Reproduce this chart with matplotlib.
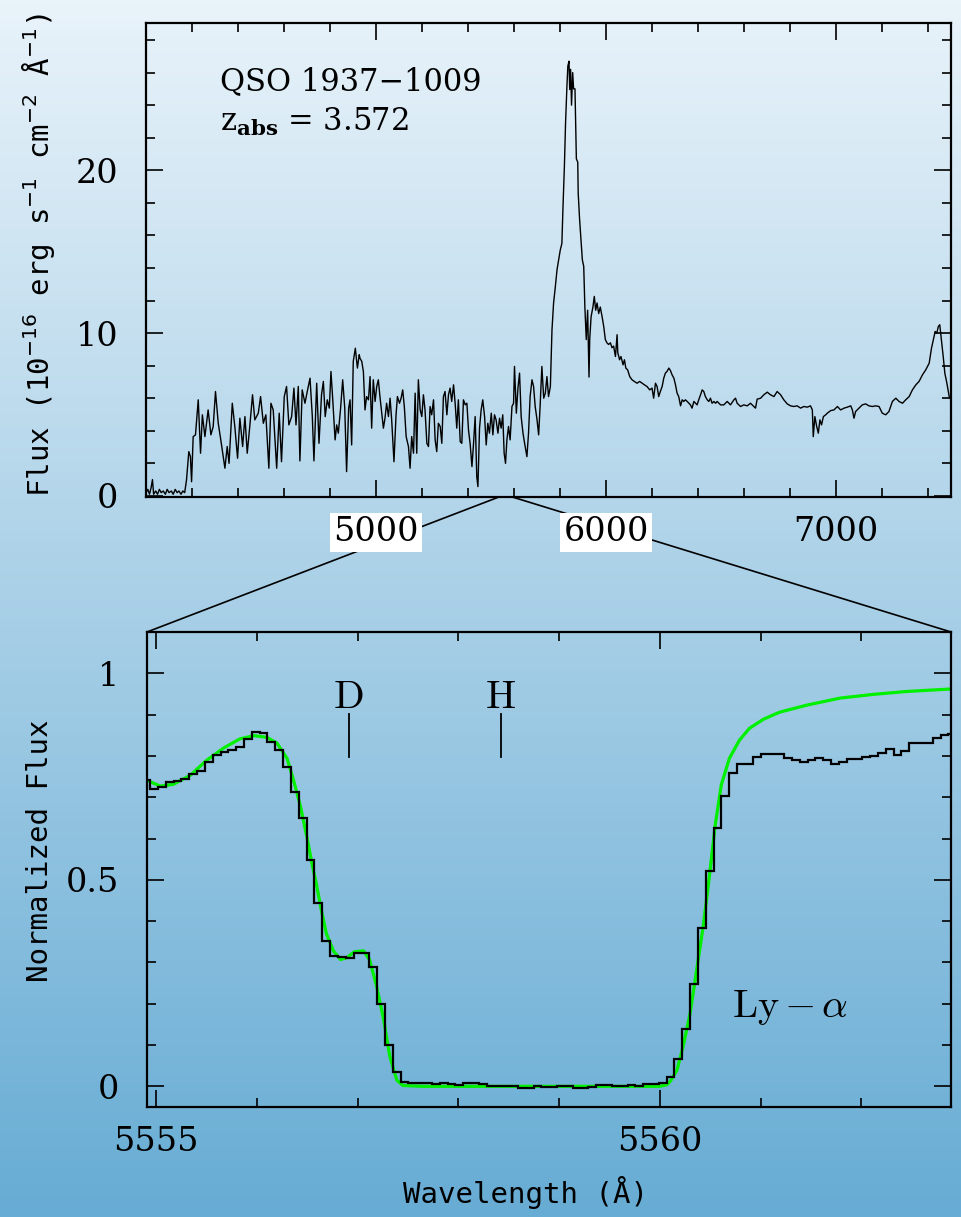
import numpy as np
import matplotlib
matplotlib.use("Agg")
import matplotlib.pyplot as plt
from matplotlib.patches import ConnectionPatch
from matplotlib.ticker import MultipleLocator

# ---- top panel: QSO spectrum (wavelength in A, flux in 1e-16 cgs) ----
wave_top = [4000, 4008, 4015, 4022, 4028, 4033, 4042, 4050, 4058, 4066, 4075, 4084, 4092, 4100,
            4110, 4118, 4127, 4135, 4143, 4152, 4160, 4168,
            4176, 4186, 4193, 4198, 4205, 4215, 4227, 4237, 4245, 4256, 4270, 4282, 4292, 4302,
            4314, 4325, 4343, 4353, 4361, 4375, 4386, 4398, 4408, 4420, 4430, 4440, 4451, 4463,
            4473, 4488, 4498, 4510, 4521, 4534, 4543, 4553, 4568, 4579, 4589, 4601, 4611, 4621,
            4633, 4643, 4652, 4662, 4669, 4679, 4691, 4701, 4713, 4723, 4730, 4742, 4752, 4763,
            4771, 4779, 4788, 4797, 4804, 4811, 4822, 4829, 4836, 4846, 4855, 4864, 4872, 4881,
            4887, 4894, 4901, 4910, 4919, 4927,
            4930, 4938, 4945, 4952, 4959, 4967, 4974, 4981, 4988, 4996, 5003, 5010, 5017, 5025,
            5032, 5039, 5046, 5054, 5061, 5068, 5078, 5087, 5093, 5102, 5109, 5116, 5123, 5131,
            5141, 5148, 5155, 5163, 5170, 5177, 5184, 5192, 5199, 5206, 5213, 5221, 5228, 5235,
            5242, 5250, 5257, 5264, 5271, 5279, 5286, 5293, 5300, 5308, 5315, 5322, 5329, 5337,
            5344, 5351, 5358, 5366, 5373, 5380, 5388, 5395, 5402, 5409, 5417, 5424, 5431, 5438,
            5443, 5450, 5457, 5464, 5472, 5479, 5486, 5493, 5501, 5508, 5515, 5522, 5530, 5537,
            5544, 5551, 5557, 5563, 5569, 5576, 5583, 5591, 5598, 5602, 5610, 5617, 5624, 5631,
            5639, 5646, 5656, 5663, 5670, 5678, 5685, 5692, 5700, 5707, 5714, 5721, 5729, 5736,
            5743, 5750, 5758,
            5765, 5772, 5779, 5787, 5794, 5801, 5808, 5813, 5819, 5824, 5830, 5834, 5839, 5842,
            5846, 5850, 5855, 5859, 5865, 5871, 5877, 5879, 5885, 5891, 5897, 5903, 5908, 5914,
            5920, 5926, 5929, 5935, 5943, 5949, 5955, 5961, 5968, 5975, 5983, 5990, 5997, 6004,
            6011, 6019, 6026, 6033, 6041, 6048, 6051, 6059, 6065, 6074, 6080, 6086, 6094, 6103,
            6113, 6123, 6135, 6146, 6157, 6167, 6178, 6190,
            6200, 6207, 6215, 6222, 6229, 6236, 6244, 6251, 6258, 6265, 6273, 6280, 6287, 6295,
            6302, 6309, 6316, 6324, 6331, 6338, 6345, 6353, 6360, 6367, 6374, 6382, 6389, 6396,
            6403, 6411, 6418, 6425, 6432, 6440, 6447, 6454, 6461, 6469, 6476, 6483, 6498, 6512,
            6527, 6541, 6556, 6563, 6570, 6585, 6599, 6614, 6628, 6643, 6650, 6657, 6672, 6686,
            6701, 6715, 6730, 6744, 6759, 6773, 6788, 6802, 6817, 6831, 6846,
            6860, 6875, 6889, 6897, 6901, 6908, 6916, 6923, 6930, 6937, 6945, 6955, 6962, 6977,
            6991, 7006, 7020, 7035, 7049, 7064, 7071, 7078, 7085, 7100, 7114, 7129, 7143, 7158,
            7172, 7187, 7201, 7216, 7230, 7245, 7260, 7274, 7289, 7303, 7318, 7332, 7347, 7361,
            7376, 7390, 7405, 7415, 7423, 7431, 7438, 7445, 7451, 7458, 7466, 7473, 7482, 7492,
            7500]
flux_top = [0.2, 0.4, 0.1, 0.5, 1.0, 0.1, 0.3, 0.1, 0.4, 0.2, 0.3, 0.1, 0.4, 0.2,
            0.3, 0.1, 0.4, 0.2, 0.3, 0.1, 0.3, 0.2,
            0.98, 2.72, 2.41, 0.87, 3.64, 3.75, 5.90, 2.62, 4.98, 3.64, 5.28, 3.75, 4.26, 6.41,
            4.46, 3.44, 1.70, 3.03, 2.00, 5.69, 4.26, 2.31, 4.77, 3.03, 4.87, 2.62, 4.26, 6.21,
            4.67, 5.08, 6.10, 4.46, 4.98, 1.70, 5.69, 5.28, 1.70, 5.08, 2.10, 6.10, 6.72, 4.36,
            4.87, 6.62, 4.36, 6.72, 2.15, 6.51, 5.69, 6.41, 7.23, 4.87, 2.15, 6.92, 3.23, 6.21,
            7.03, 4.87, 5.90, 5.39, 7.64, 6.10, 3.44, 4.36, 3.85, 5.39, 7.13, 5.39, 1.49, 5.39,
            5.90, 3.13, 8.26, 9.07, 7.85, 8.67,
            8.46, 8.26, 7.64, 5.28, 6.10, 5.90, 7.33, 4.16, 7.13, 5.80, 6.72, 7.13, 6.10, 5.08,
            4.16, 4.77, 5.69, 4.87, 6.00, 4.67, 2.10, 4.98, 6.10, 5.69, 6.00, 6.51, 5.49, 3.64,
            3.03, 1.70, 3.64, 2.62, 6.31, 2.62, 7.13, 5.28, 4.87, 6.21, 5.28, 3.23, 3.03, 5.49,
            4.98, 5.90, 3.44, 2.72, 4.46, 4.26, 3.23, 6.10, 6.41, 4.98, 6.21, 6.62, 5.80, 6.82,
            5.69, 4.16, 5.90, 3.33, 3.23, 5.90, 5.59, 5.69, 4.05, 3.23, 1.80, 3.23, 4.87, 1.18,
            0.57, 4.16, 5.28, 5.90, 4.87, 3.13, 4.46, 3.85, 5.08, 3.75, 4.98, 4.67, 3.85, 4.77,
            4.16, 4.98, 2.62, 2.00, 3.44, 4.26, 3.44, 5.49, 5.69, 7.95, 5.08, 6.62, 7.54, 4.87,
            3.85, 3.23, 2.41, 3.85, 6.10, 7.13, 6.72, 5.49, 4.67, 3.75, 5.69, 7.95, 6.00, 6.31,
            7.33, 6.10, 6.72,
            10.2, 11.85, 12.77, 13.9, 14.5, 15.1, 15.5, 17.8, 20.25, 22.9, 25.17, 26.4, 26.7, 24.96,
            26.2, 24.0, 26.0, 25.0, 25.0, 20.7, 20.5, 18.6, 17.0, 15.7, 14.5, 14.1, 11.6, 9.6,
            11.4, 7.3, 9.6, 11.0, 11.6, 12.25, 11.4, 11.85, 11.2, 11.6, 11.0, 10.4, 9.6, 9.4,
            9.3, 9.4, 9.1, 9.2, 8.56, 9.9, 8.8, 8.36, 8.56, 8.05, 8.36, 7.85, 7.74, 7.33,
            7.13, 7.03, 6.92, 7.03, 6.92, 6.82, 6.72, 6.51,
            6.62, 6.00, 6.92, 6.72, 6.10, 6.41, 6.72, 7.23, 7.54, 7.64, 7.85, 7.70, 7.44, 7.23,
            6.82, 6.31, 6.10, 5.53, 5.90, 5.80, 5.90, 5.80, 5.69, 5.59, 5.39, 5.80, 5.69, 5.59,
            5.90, 6.21, 6.51, 6.41, 6.10, 5.90, 5.80, 6.00, 5.69, 5.80, 5.69, 5.80, 5.59, 5.59,
            5.80, 5.59, 5.90, 6.00, 5.69, 5.49, 5.59, 5.53, 5.69, 5.49, 5.39, 5.94, 6.00, 6.21,
            6.37, 6.21, 6.10, 6.41, 6.21, 5.90, 5.65, 5.53, 5.49, 5.53, 5.39,
            5.49, 5.45, 5.53, 5.28, 3.64, 4.87, 4.26, 3.85, 4.67, 4.36, 4.87, 4.98, 5.08, 5.24,
            5.28, 5.49, 5.28, 5.39, 5.45, 5.53, 5.28, 4.77, 5.18, 5.39, 5.59, 5.65, 5.53, 5.49,
            5.53, 5.49, 5.08, 4.98, 5.18, 5.80, 6.00, 5.80, 5.69, 5.90, 6.10, 6.51, 6.82, 7.03,
            7.44, 7.74, 8.15, 9.07, 9.59, 10.1, 10.0, 10.41, 10.51, 9.59, 8.56, 7.54, 6.92, 6.10,
            5.9]

top_xticks = [5000, 6000, 7000]
top_yticks = [0, 10, 20]
boxed_labels = ["5000", "6000"]

# ---- bottom panel: normalized flux around the Ly-alpha absorber ----
bin_edge0 = 5554.863   # first pixel edge (A)
bin_width = 0.07768    # pixel width (A)
flux_bin = [0.742, 0.719, 0.724, 0.738, 0.740, 0.744, 0.755, 0.764, 0.786, 0.802,
            0.810, 0.814, 0.822, 0.840, 0.859, 0.856, 0.834, 0.814, 0.774, 0.713,
            0.650, 0.548, 0.443, 0.353, 0.316, 0.314, 0.310, 0.324, 0.324, 0.288,
            0.199, 0.100, 0.035, 0.011, 0.009, 0.009, 0.007, 0.006, 0.009, 0.006,
            0.003, 0.007, 0.008, 0.005, 0.002, 0.002, 0.002, 0.000, -0.003, -0.003,
            0.000, -0.002, -0.002, 0.000, 0.000, -0.003, -0.004, -0.002, 0.003, 0.003,
            0.002, 0.002, 0.003, 0.000, 0.005, 0.006, 0.009, 0.023, 0.066, 0.138,
            0.247, 0.383, 0.521, 0.625, 0.703, 0.759, 0.780, 0.780, 0.797, 0.804,
            0.804, 0.804, 0.796, 0.790, 0.786, 0.790, 0.794, 0.790, 0.780, 0.785,
            0.793, 0.793, 0.797, 0.800, 0.806, 0.817, 0.802, 0.813, 0.831, 0.831,
            0.832, 0.844, 0.851, 0.854]

wave_fit = [5554.90, 5555.04, 5555.17, 5555.34, 5555.50, 5555.67, 5555.83, 5555.97, 5556.10,
            5556.20, 5556.30, 5556.36, 5556.43, 5556.50, 5556.55, 5556.59, 5556.64, 5556.69,
            5556.76, 5556.83, 5556.89, 5556.97, 5557.06, 5557.12, 5557.19, 5557.26, 5557.32,
            5557.39, 5557.45, 5557.65, 5560.00, 5560.07, 5560.10, 5560.17, 5560.23, 5560.30,
            5560.36, 5560.43, 5560.48, 5560.51, 5560.55, 5560.61, 5560.69, 5560.79, 5560.89,
            5561.03, 5561.19, 5561.46, 5561.79, 5562.12, 5562.45, 5562.89]
flux_fit = [0.742, 0.727, 0.731, 0.753, 0.789, 0.819, 0.841, 0.849, 0.845,
            0.831, 0.794, 0.745, 0.681, 0.600, 0.536, 0.491, 0.427, 0.370,
            0.328, 0.307, 0.311, 0.326, 0.328, 0.306, 0.241, 0.160, 0.072,
            0.015, 0.002, 0.000, 0.000, 0.004, 0.011, 0.039, 0.096, 0.176,
            0.273, 0.387, 0.484, 0.548, 0.633, 0.730, 0.794, 0.838, 0.867,
            0.889, 0.906, 0.923, 0.940, 0.949, 0.956, 0.962]

line_names = ["D", "H"]
line_waves = [5556.91, 5558.42]

bot_xticks = [5555, 5560]
bot_yticks = [0, 0.5, 1]
bot_yticklabels = ["0", "0.5", "1"]

plt.rcParams['font.family'] = 'DejaVu Serif'

fig = plt.figure(figsize=(9.62, 12.17), dpi=100)

# vertical blue gradient background
bg = fig.add_axes([0, 0, 1, 1], zorder=-10)
top_col = np.array([233, 243, 250]) / 255.0
bot_col = np.array([103, 172, 212]) / 255.0
t = np.linspace(0, 1, 256)[:, None]
grad = top_col[None, :] * (1 - t) + bot_col[None, :] * t
bg.imshow(grad[:, None, :], aspect='auto', extent=[0, 1, 0, 1], origin='upper')
bg.axis('off')

ax1 = fig.add_axes([0.1518, 0.5916, 0.8368, 0.3897])
ax2 = fig.add_axes([0.1528, 0.0904, 0.8358, 0.3903])
for ax in (ax1, ax2):
    ax.patch.set_alpha(0)
    for sp in ax.spines.values():
        sp.set_linewidth(1.6)
    ax.tick_params(which='both', direction='in', top=True, right=True, width=1.2,
                   labelsize=24)
    ax.tick_params(which='major', length=12.5)
    ax.tick_params(which='minor', length=6.5)

# top panel
ax1.plot(wave_top, flux_top, color='black', lw=1.0)
ax1.set_xlim(4000, 7500)
ax1.set_ylim(-0.07, 29.06)
ax1.set_xticks(top_xticks)
ax1.xaxis.set_minor_locator(MultipleLocator(200))
ax1.set_yticks(top_yticks)
ax1.yaxis.set_minor_locator(MultipleLocator(2))
ax1.tick_params(axis='x', pad=14)
ax1.tick_params(axis='y', pad=20)
for lab in ax1.get_xticklabels():
    if lab.get_text() in boxed_labels:
        lab.set_bbox(dict(facecolor='white', edgecolor='none', pad=2.5))
ax1.set_ylabel("Flux (10$^{-16}$ erg s$^{-1}$ cm$^{-2}$ Å$^{-1}$)",
               family='DejaVu Sans Mono', fontsize=21, va='center')
ax1.yaxis.set_label_coords(-0.133, 0.51)
ax1.text(4322, 24.9, "QSO 1937\u22121009", fontsize=22, va='baseline')
ax1.text(4322, 22.4, r"z$_{\mathbf{abs}}$ = 3.572", fontsize=22, va='baseline',
         math_fontfamily='dejavuserif')

# bottom panel
edges = bin_edge0 + bin_width * np.arange(len(flux_bin) + 1)
ax2.plot(wave_fit, flux_fit, color='#00f000', lw=2.3, zorder=2)
ax2.stairs(flux_bin, edges, baseline=None, color='black', lw=1.6, zorder=3)
ax2.set_xlim(5554.91, 5562.89)
ax2.set_ylim(-0.05, 1.1)
ax2.set_xticks(bot_xticks)
ax2.xaxis.set_minor_locator(MultipleLocator(1))
ax2.set_yticks(bot_yticks, labels=bot_yticklabels)
ax2.yaxis.set_minor_locator(MultipleLocator(0.1))
ax2.tick_params(axis='x', pad=14)
ax2.tick_params(axis='y', pad=20)
ax2.set_xlabel("Wavelength (Å)", family='DejaVu Sans Mono', fontsize=21, va='center')
ax2.xaxis.set_label_coords(0.471, -0.179)
ax2.set_ylabel("Normalized Flux", family='DejaVu Sans Mono', fontsize=21, va='center')
ax2.yaxis.set_label_coords(-0.133, 0.539)

for name, w in zip(line_names, line_waves):
    ax2.plot([w, w], [0.798, 0.901], color='black', lw=1.3)
    ax2.text(w, 0.917, r"$\mathrm{%s}$" % name, ha='center', va='baseline',
             fontsize=29, math_fontfamily='cm')
ax2.text(5560.72, 0.1685, r"$\mathrm{Ly}\,{-}\,\alpha$", ha='left', va='baseline',
         fontsize=29, math_fontfamily='cm')

# zoom connectors from the top spectrum to the bottom panel
for xa, xb in ((5534, 0), (5593, 1)):
    con = ConnectionPatch(xyA=(xa, 0), coordsA=ax1.get_xaxis_transform(),
                          xyB=(xb, 1), coordsB=ax2.transAxes,
                          color='black', lw=1.2)
    con.set_zorder(-5)
    fig.add_artist(con)

fig.savefig("out.png", dpi=100)
